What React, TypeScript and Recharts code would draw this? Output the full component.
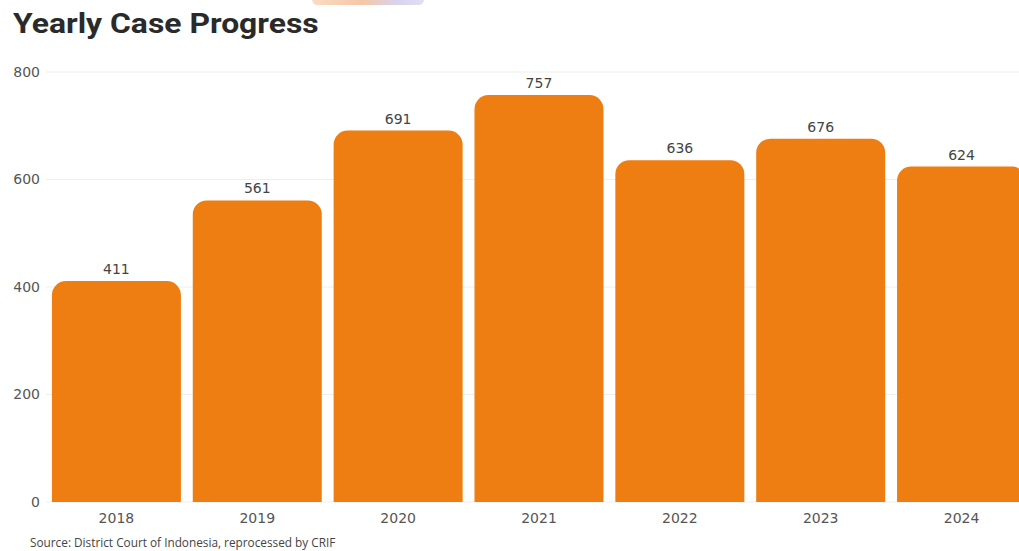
import { BarChart, Bar, XAxis, YAxis, CartesianGrid, LabelList } from 'recharts';

const years = ['2018', '2019', '2020', '2021', '2022', '2023', '2024'];
const cases = [411, 561, 691, 757, 636, 676, 624];
const yTicks = [0, 200, 400, 600, 800];

const data = years.map((year, i) => ({ year, cases: cases[i] }));

const BAR_COLOR = '#EE7D12';

export default function App() {
  return (
    <div
      style={{
        position: 'fixed',
        left: 0,
        top: 0,
        width: 1019,
        height: 551,
        overflow: 'hidden',
        background: '#fff',
      }}
    >
      {/* faint watermark remnant at the top edge */}
      <div
        style={{
          position: 'absolute',
          left: 312,
          top: -6,
          width: 112,
          height: 11,
          borderRadius: 6,
          background: 'linear-gradient(90deg, #f8d2b4 0%, #f3b98f 45%, #cfc8ea 75%, #d9d6ef 100%)',
          opacity: 0.8,
        }}
      />
      <div
        style={{
          position: 'absolute',
          left: 13,
          top: 8,
          fontFamily: 'Roboto, sans-serif',
          fontWeight: 700,
          fontSize: 27,
          color: '#2a2a2a',
          whiteSpace: 'nowrap',
          transform: 'scaleX(1.18)',
          transformOrigin: 'left center',
        }}
      >
        Yearly Case Progress
      </div>

      <div style={{ position: 'absolute', left: 0, top: 0 }}>
        <BarChart
          width={1032}
          height={551}
          data={data}
          margin={{ top: 72, right: 0, bottom: 20, left: 0 }}
          barCategoryGap="4.2%"
        >
          <CartesianGrid vertical={false} stroke="#eeeeee" />
          <YAxis
            width={46}
            domain={[0, 800]}
            ticks={yTicks}
            axisLine={false}
            tickLine={false}
            tickSize={6}
            tickMargin={0}
            tick={{ fill: '#555', fontSize: 14, fontFamily: 'DejaVu Sans, sans-serif' }}
          />
          <XAxis
            dataKey="year"
            height={29}
            axisLine={false}
            tickLine={false}
            tickSize={6}
            tickMargin={5}
            interval={0}
            tick={{ fill: '#555', fontSize: 14, fontFamily: 'DejaVu Sans, sans-serif' }}
          />
          <Bar dataKey="cases" fill={BAR_COLOR} radius={[14, 14, 0, 0]} isAnimationActive={false}>
            <LabelList
              dataKey="cases"
              position="top"
              offset={7}
              fill="#444"
              fontSize={14}
              fontFamily="DejaVu Sans, sans-serif"
            />
          </Bar>
        </BarChart>
      </div>

      <div
        style={{
          position: 'absolute',
          left: 30,
          top: 535,
          lineHeight: '14px',
          fontFamily: '"Open Sans", sans-serif',
          fontSize: 11.8,
          color: '#444',
          whiteSpace: 'nowrap',
        }}
      >
        Source: District Court of Indonesia, reprocessed by CRIF
      </div>
    </div>
  );
}
